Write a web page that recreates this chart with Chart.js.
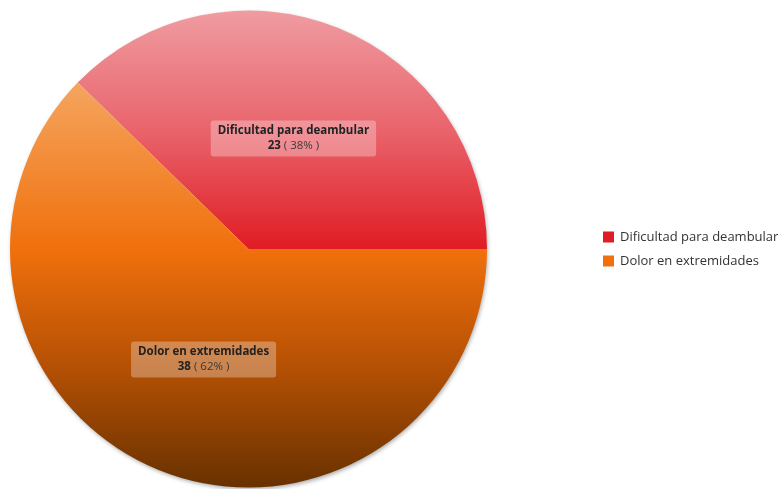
<!DOCTYPE html>
<html>
<head>
<meta charset="utf-8">
<script src="https://cdn.jsdelivr.net/npm/chart.js@4"></script>
<style>
  html, body { margin: 0; padding: 0; background: #fff; }
  #wrap { width: 784px; height: 489px; }
</style>
</head>
<body>
<div id="wrap"><canvas id="myChart" width="784" height="489"></canvas></div>
<script>
// datos del grafico
let categorias = ["Dificultad para deambular", "Dolor en extremidades"];
let valores = [23, 38];
let coloresLeyenda = ["#e01c24", "#f07010"];

let total = valores.reduce((a, b) => a + b, 0);
let FUENTE = "'Open Sans', 'Noto Sans', sans-serif";

// degradado vertical de cada porcion, segun la parte del circulo que ocupa
function degradado(context){
    let chart = context.chart;
    let area = chart.chartArea;
    if(!area) return coloresLeyenda[context.dataIndex];
    let ctx = chart.ctx;
    let cy = (area.top + area.bottom) / 2;
    let r = Math.min(area.right - area.left, area.bottom - area.top) / 2;
    if(context.dataIndex == 0){
        let g = ctx.createLinearGradient(0, cy - r, 0, cy);
        g.addColorStop(0, "#ef9ca1");
        g.addColorStop(0.5, "#e9646c");
        g.addColorStop(1, "#e01c24");
        return g;
    }
    let ang = Math.PI * 2 * valores[0] / total;
    let top = cy - r * Math.sin(ang);
    let g = ctx.createLinearGradient(0, top, 0, cy + r);
    let mid = (cy - top) / (cy + r - top);
    g.addColorStop(0, "#f5a55f");
    g.addColorStop(mid, "#f0700c");
    g.addColorStop(mid + (1 - mid) * 0.5, "#b45004");
    g.addColorStop(1, "#683100");
    return g;
}

// sombra suave debajo del pastel
let sombra = {
    id: "sombra",
    beforeDatasetsDraw(chart){
        let arc = chart.getDatasetMeta(0).data[0];
        if(!arc) return;
        let ctx = chart.ctx;
        ctx.save();
        ctx.shadowColor = "rgba(0,0,0,0.35)";
        ctx.shadowBlur = 4;
        ctx.shadowOffsetX = 1;
        ctx.shadowOffsetY = 2;
        ctx.fillStyle = "#ffffff";
        ctx.beginPath();
        ctx.arc(arc.x, arc.y, arc.outerRadius - 0.5, 0, Math.PI * 2);
        ctx.fill();
        ctx.restore();
    }
};

function cajaRedonda(ctx, x, y, w, h, r){
    ctx.beginPath();
    ctx.moveTo(x + r, y);
    ctx.lineTo(x + w - r, y);
    ctx.quadraticCurveTo(x + w, y, x + w, y + r);
    ctx.lineTo(x + w, y + h - r);
    ctx.quadraticCurveTo(x + w, y + h, x + w - r, y + h);
    ctx.lineTo(x + r, y + h);
    ctx.quadraticCurveTo(x, y + h, x, y + h - r);
    ctx.lineTo(x, y + r);
    ctx.quadraticCurveTo(x, y, x + r, y);
    ctx.closePath();
}

// etiquetas con nombre, valor y porcentaje en cada porcion
let etiquetas = {
    id: "etiquetas",
    afterDatasetsDraw(chart){
        let ctx = chart.ctx;
        let meta = chart.getDatasetMeta(0);
        meta.data.forEach((arc, i) => {
            let pos = arc.tooltipPosition();
            let nombre = categorias[i];
            let num = String(valores[i]);
            let pct = " ( " + Math.round(valores[i] / total * 100) + "% )";

            ctx.save();
            ctx.font = "bold 11.5px " + FUENTE;
            let w1 = ctx.measureText(nombre).width;
            let wn = ctx.measureText(num).width;
            ctx.font = "11.5px " + FUENTE;
            let wp = ctx.measureText(pct).width;
            let w = Math.max(w1, wn + wp) + 14;
            let h = 36;
            let x = pos.x - w / 2;
            let y = pos.y - h / 2;

            ctx.fillStyle = "rgba(255,255,255,0.3)";
            cajaRedonda(ctx, x, y, w, h, 3);
            ctx.fill();

            ctx.fillStyle = "#222";
            ctx.textBaseline = "middle";
            ctx.textAlign = "left";
            ctx.font = "bold 11.5px " + FUENTE;
            ctx.fillText(nombre, pos.x - w1 / 2, pos.y - 7.5);
            let x2 = pos.x - (wn + wp) / 2;
            ctx.fillText(num, x2, pos.y + 7.5);
            ctx.fillStyle = "#3a3a3a";
            ctx.font = "11.5px " + FUENTE;
            ctx.fillText(pct, x2 + wn, pos.y + 7.5);
            ctx.restore();
        });
    }
};

// leyenda a la derecha
let leyenda = {
    id: "leyenda",
    afterDraw(chart){
        let ctx = chart.ctx;
        let x = 603;
        let y0 = 237;
        ctx.save();
        ctx.font = "13px " + FUENTE;
        ctx.textBaseline = "middle";
        categorias.forEach((c, i) => {
            let y = y0 + i * 24;
            ctx.fillStyle = coloresLeyenda[i];
            ctx.fillRect(x, y - 5.5, 11, 11);
            ctx.fillStyle = "#333";
            ctx.fillText(c, x + 17, y);
        });
        ctx.restore();
    }
};

let ctx = document.getElementById("myChart").getContext("2d");
let myChart = new Chart(ctx, {
    type: "pie",
    data: {
        labels: categorias,
        datasets: [{
            data: valores,
            backgroundColor: degradado,
            borderWidth: 0
        }]
    },
    options: {
        responsive: false,
        animation: false,
        rotation: 90 - 360 * valores[0] / total,
        layout: { padding: { left: 10, top: 10, right: 297, bottom: 1 } },
        plugins: {
            legend: { display: false },
            tooltip: { enabled: false }
        }
    },
    plugins: [sombra, etiquetas, leyenda]
});
</script>
</body>
</html>
